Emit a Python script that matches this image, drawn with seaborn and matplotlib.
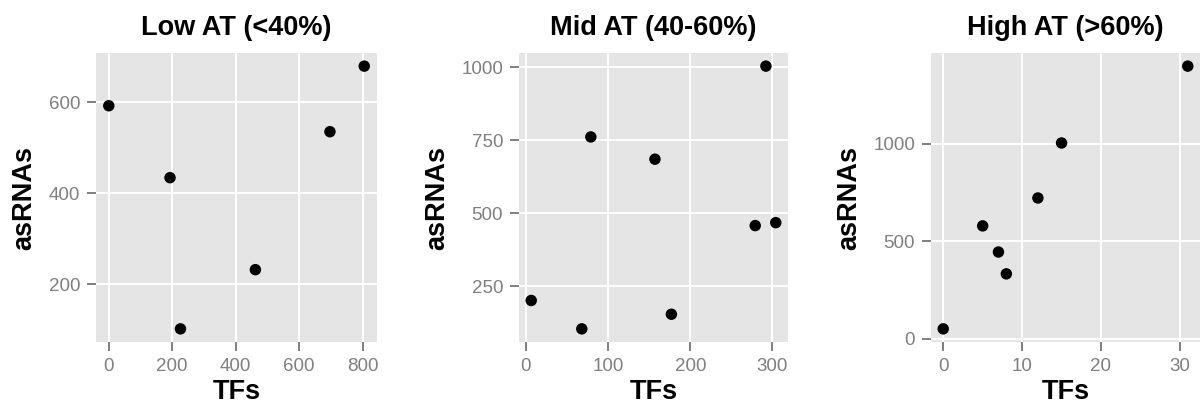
import matplotlib
matplotlib.use("Agg")
import matplotlib.pyplot as plt
import seaborn as sns
import pandas as pd

# ---------------------------------------------------------
# DATA
# ---------------------------------------------------------

titles = ["Low AT (<40%)", "Mid AT (40-60%)", "High AT (>60%)"]

low_tfs = [0, 193, 226, 462, 697, 805]
low_asrnas = [592, 434, 102, 232, 535, 679]

mid_tfs = [6.5, 68, 79, 157, 177, 279, 292, 304]
mid_asrnas = [202, 105, 761, 685, 155, 458, 1003, 468]

high_tfs = [0, 5, 7, 8, 12, 15, 31]
high_asrnas = [51, 579, 445, 333, 722, 1004, 1398]

x_ticks = [[0, 200, 400, 600, 800], [0, 100, 200, 300], [0, 10, 20, 30]]
y_ticks = [[200, 400, 600], [250, 500, 750, 1000], [0, 500, 1000]]

# ---------------------------------------------------------
# STYLE
# ---------------------------------------------------------

sns.set_theme(style="darkgrid", rc={
    "axes.facecolor": "#E5E5E5",
    "grid.color": "white",
    "grid.linewidth": 1.4,
    "text.color": "black",
    "axes.labelcolor": "black",
})
plt.rcParams["font.family"] = ["Liberation Sans", "DejaVu Sans"]

grey = "#7F7F7F"

fig = plt.figure(figsize=(12, 4.19), dpi=100)

lefts = [96, 519, 931]
widths = [281, 269, 269]
groups = [(low_tfs, low_asrnas), (mid_tfs, mid_asrnas), (high_tfs, high_asrnas)]

for i, (tfs, asrnas) in enumerate(groups):
    ax = fig.add_axes([lefts[i] / 1200, 77 / 419, widths[i] / 1200, 289 / 419])
    df = pd.DataFrame({"TFs": tfs, "asRNAs": asrnas})
    sns.scatterplot(data=df, x="TFs", y="asRNAs", ax=ax,
                    color="black", s=68, edgecolor="none", zorder=3)
    ax.set_xticks(x_ticks[i])
    ax.set_yticks(y_ticks[i])
    ax.margins(0.05)
    for sp in ax.spines.values():
        sp.set_visible(False)
    ax.tick_params(axis="both", which="major", length=6.5, width=1.4,
                   color=grey, labelcolor=grey, labelsize=13.5, pad=5,
                   bottom=True, left=True)
    ax.set_title(titles[i], fontsize=19.5, fontweight="bold", pad=13)
    ax.set_xlabel("TFs", fontsize=19.5, fontweight="bold", labelpad=3)
    ax.set_ylabel("asRNAs", fontsize=19.5, fontweight="bold", labelpad=8)
    ax.grid(True, which="major")

fig.savefig("out.png", dpi=100)
